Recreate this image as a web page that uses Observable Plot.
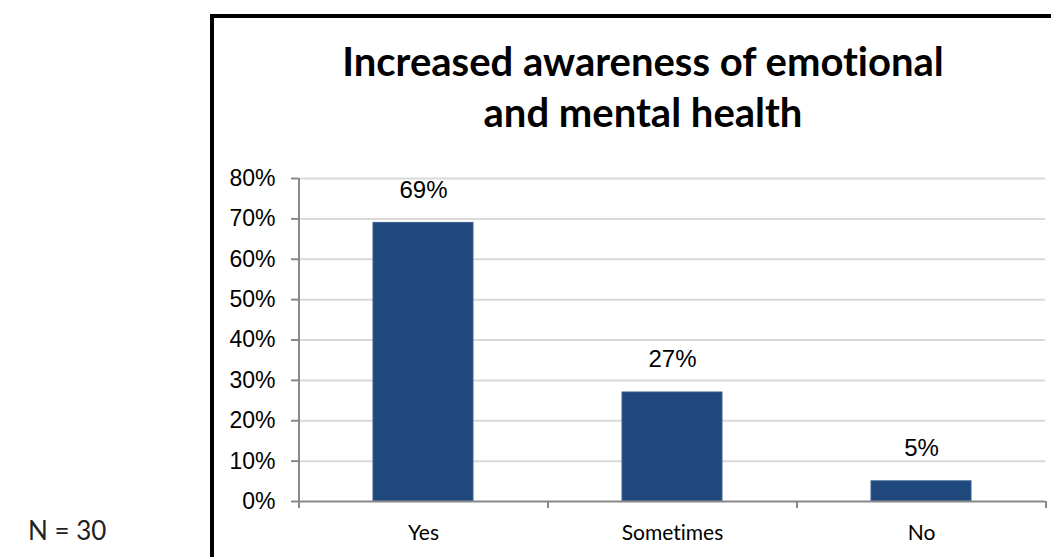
<!DOCTYPE html>
<html>
<head>
<meta charset="utf-8">
<script src="https://cdn.jsdelivr.net/npm/d3@7"></script>
<script src="https://cdn.jsdelivr.net/npm/@observablehq/plot@0.6"></script>
<style>
  html, body { margin: 0; padding: 0; background: #fff; }
  #page { position: relative; width: 1051px; height: 557px; overflow: hidden; background: #fff; font-variant-ligatures: none; }
  #page svg text { font-variant-ligatures: none; }
  #frame { position: absolute; left: 210px; top: 14px; width: 1000px; height: 1000px; border: 4px solid #000; box-sizing: border-box; }
  #title { position: absolute; left: 243px; width: 800px; top: 36px; text-align: center; font-family: Lato, sans-serif; font-weight: 700; font-size: 40px; line-height: 51px; color: #000; }
  #note { position: absolute; left: 28px; top: 517px; font-family: Lato, sans-serif; font-size: 26px; line-height: 26px; color: #222; }
  #chart { position: absolute; left: 0; top: 0; }
</style>
</head>
<body>
<div id="page">
  <div id="frame"></div>
  <div id="chart"></div>
  <div id="title">Increased awareness of emotional<br>and mental health</div>
  <div id="note">N = 30</div>
</div>
<script>
const categories = ["Yes", "Sometimes", "No"];
const values = [69, 27, 5];
const valueLabels = ["69%", "27%", "5%"];
const yTicks = [0, 10, 20, 30, 40, 50, 60, 70, 80];

const data = categories.map((c, i) => ({category: c, value: values[i], label: valueLabels[i]}));

const W = 1051, H = 557, mL = 298, mR = 6, mT = 178, mB = 56;
const step = (W - mL - mR) / categories.length;

const chart = Plot.plot({
  width: W, height: H,
  marginLeft: mL, marginRight: mR, marginTop: mT, marginBottom: mB,
  style: {background: "transparent", overflow: "visible"},
  x: {domain: categories, paddingInner: 0.6, paddingOuter: 0.3, label: null},
  y: {domain: [0, 80], label: null},
  marks: [
    Plot.ruleY(yTicks.filter(d => d > 0), {stroke: "#d9d9d9", strokeWidth: 2}),
    Plot.barY(data, {x: "category", y: "value", fill: "#1f497d", stroke: "#3a6190", strokeWidth: 1}),
    Plot.text(data, {x: "category", y: "value", text: "label", dy: -33, fontSize: 24, fontFamily: "Liberation Sans, Arial, sans-serif", fill: "#000"}),
    Plot.axisY({ticks: yTicks, tickFormat: d => d + "%", tickSize: 7, tickPadding: 16, fontSize: 23, fontFamily: "Liberation Sans, Arial, sans-serif", stroke: "#888", strokeWidth: 2, fill: "#000", label: null}),
    Plot.axisX({tickSize: 0, tickPadding: 24, fontSize: 21, fontFamily: "Lato, sans-serif", fill: "#000", label: null}),
    Plot.ruleY([0], {stroke: "#888", strokeWidth: 2}),
    Plot.ruleX([categories[0]], {x: d => d, y1: 0, y2: 80, dx: -step / 2, stroke: "#888", strokeWidth: 2}),
    Plot.ruleX(categories, {x: d => d, y1: 0, y2: 0, insetBottom: -7, dx: -step / 2, stroke: "#888", strokeWidth: 2}),
    Plot.ruleX([categories[categories.length - 1]], {x: d => d, y1: 0, y2: 0, insetBottom: -7, dx: step / 2, stroke: "#888", strokeWidth: 2})
  ]
});
document.getElementById("chart").appendChild(chart);
</script>
</body>
</html>
